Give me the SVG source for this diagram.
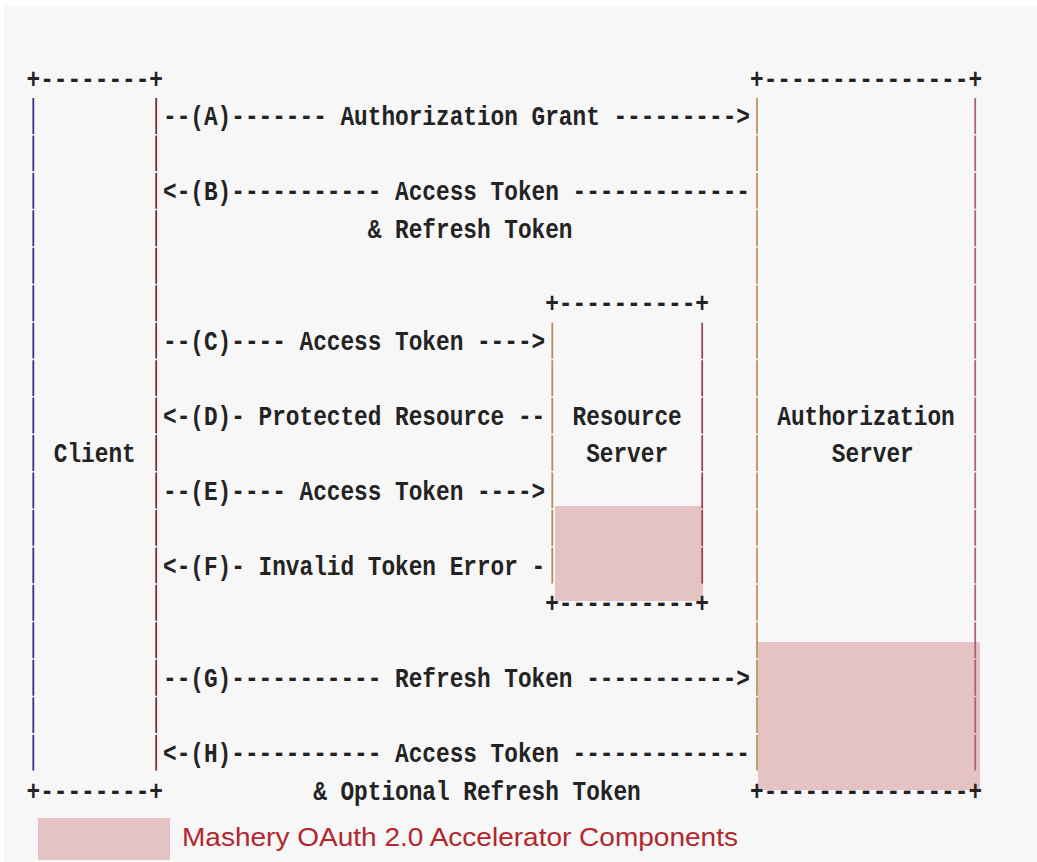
<svg xmlns="http://www.w3.org/2000/svg" width="1037" height="862" viewBox="0 0 1037 862">
<style>
.t{font-family:"Liberation Mono","DejaVu Sans Mono",monospace;font-size:28px;font-weight:bold;fill:#232323}
.bar{stroke-width:1.8;stroke-dasharray:35.9 1.55;fill:none}
.hl{fill:#e5c3c4}
.leg{font-family:"Liberation Sans",Arial,sans-serif;font-size:26px;fill:#b3262c}
</style>
<rect x="0" y="0" width="1037" height="862" fill="#ffffff"/>
<rect x="4" y="6" width="1033" height="856" fill="#f7f7f7"/>
<g id="highlights">
<rect class="hl" x="555" y="506" width="148" height="95"/>
<rect class="hl" x="758" y="642" width="222" height="148"/>
</g>
<g id="client">
<text class="t" x="26.5" y="87.5" textLength="136.5" lengthAdjust="spacingAndGlyphs">+--------+</text>
<line class="bar" x1="33.3" y1="98" x2="33.3" y2="772" stroke="#34348c"/>
<line class="bar" x1="156.2" y1="98" x2="156.2" y2="772" stroke="#7a2e2e"/>
<text class="t" x="53.8" y="462" textLength="81.9" lengthAdjust="spacingAndGlyphs">Client</text>
<text class="t" x="26.5" y="799.5" textLength="136.5" lengthAdjust="spacingAndGlyphs">+--------+</text>
</g>
<g id="resource-server">
<text class="t" x="545.2" y="312" textLength="163.8" lengthAdjust="spacingAndGlyphs">+----------+</text>
<line class="bar" x1="552.3" y1="322.8" x2="552.3" y2="585" stroke="#b98c5c"/>
<line class="bar" x1="702.2" y1="322.8" x2="702.2" y2="585" stroke="#9c4450"/>
<text class="t" x="572.5" y="424.5" textLength="109.2" lengthAdjust="spacingAndGlyphs">Resource</text>
<text class="t" x="586.15" y="462" textLength="81.9" lengthAdjust="spacingAndGlyphs">Server</text>
<text class="t" x="545.2" y="612" textLength="163.8" lengthAdjust="spacingAndGlyphs">+----------+</text>
</g>
<g id="authorization-server">
<text class="t" x="750" y="87.5" textLength="232.05" lengthAdjust="spacingAndGlyphs">+---------------+</text>
<line class="bar" x1="757" y1="98" x2="757" y2="772" stroke="#bf9060"/>
<line class="bar" x1="975.2" y1="98" x2="975.2" y2="772" stroke="#b06272"/>
<text class="t" x="777.25" y="424.5" textLength="177.45" lengthAdjust="spacingAndGlyphs">Authorization</text>
<text class="t" x="831.85" y="462" textLength="81.9" lengthAdjust="spacingAndGlyphs">Server</text>
<text class="t" x="750" y="799.5" textLength="232.05" lengthAdjust="spacingAndGlyphs">+---------------+</text>
</g>
<g id="connectors">
<text class="t" x="163" y="125" textLength="586.95" lengthAdjust="spacingAndGlyphs">--(A)------- Authorization Grant ---------&gt;</text>
<text class="t" x="163" y="200" textLength="586.95" lengthAdjust="spacingAndGlyphs">&lt;-(B)----------- Access Token -------------</text>
<text class="t" x="367.75" y="237.5" textLength="204.75" lengthAdjust="spacingAndGlyphs">&amp; Refresh Token</text>
<text class="t" x="163" y="350" textLength="382.2" lengthAdjust="spacingAndGlyphs">--(C)---- Access Token ----&gt;</text>
<text class="t" x="163" y="424.5" textLength="382.2" lengthAdjust="spacingAndGlyphs">&lt;-(D)- Protected Resource --</text>
<text class="t" x="163" y="499.5" textLength="382.2" lengthAdjust="spacingAndGlyphs">--(E)---- Access Token ----&gt;</text>
<text class="t" x="163" y="574.5" textLength="382.2" lengthAdjust="spacingAndGlyphs">&lt;-(F)- Invalid Token Error -</text>
<text class="t" x="163" y="687" textLength="586.95" lengthAdjust="spacingAndGlyphs">--(G)----------- Refresh Token -----------&gt;</text>
<text class="t" x="163" y="762" textLength="586.95" lengthAdjust="spacingAndGlyphs">&lt;-(H)----------- Access Token -------------</text>
<text class="t" x="313.15" y="799.5" textLength="327.6" lengthAdjust="spacingAndGlyphs">&amp; Optional Refresh Token</text>
</g>
<g id="legend">
<rect class="hl" x="38" y="818" width="132" height="42"/>
<text class="leg" x="182" y="846" textLength="556" lengthAdjust="spacingAndGlyphs">Mashery OAuth 2.0 Accelerator Components</text>
</g>
</svg>
